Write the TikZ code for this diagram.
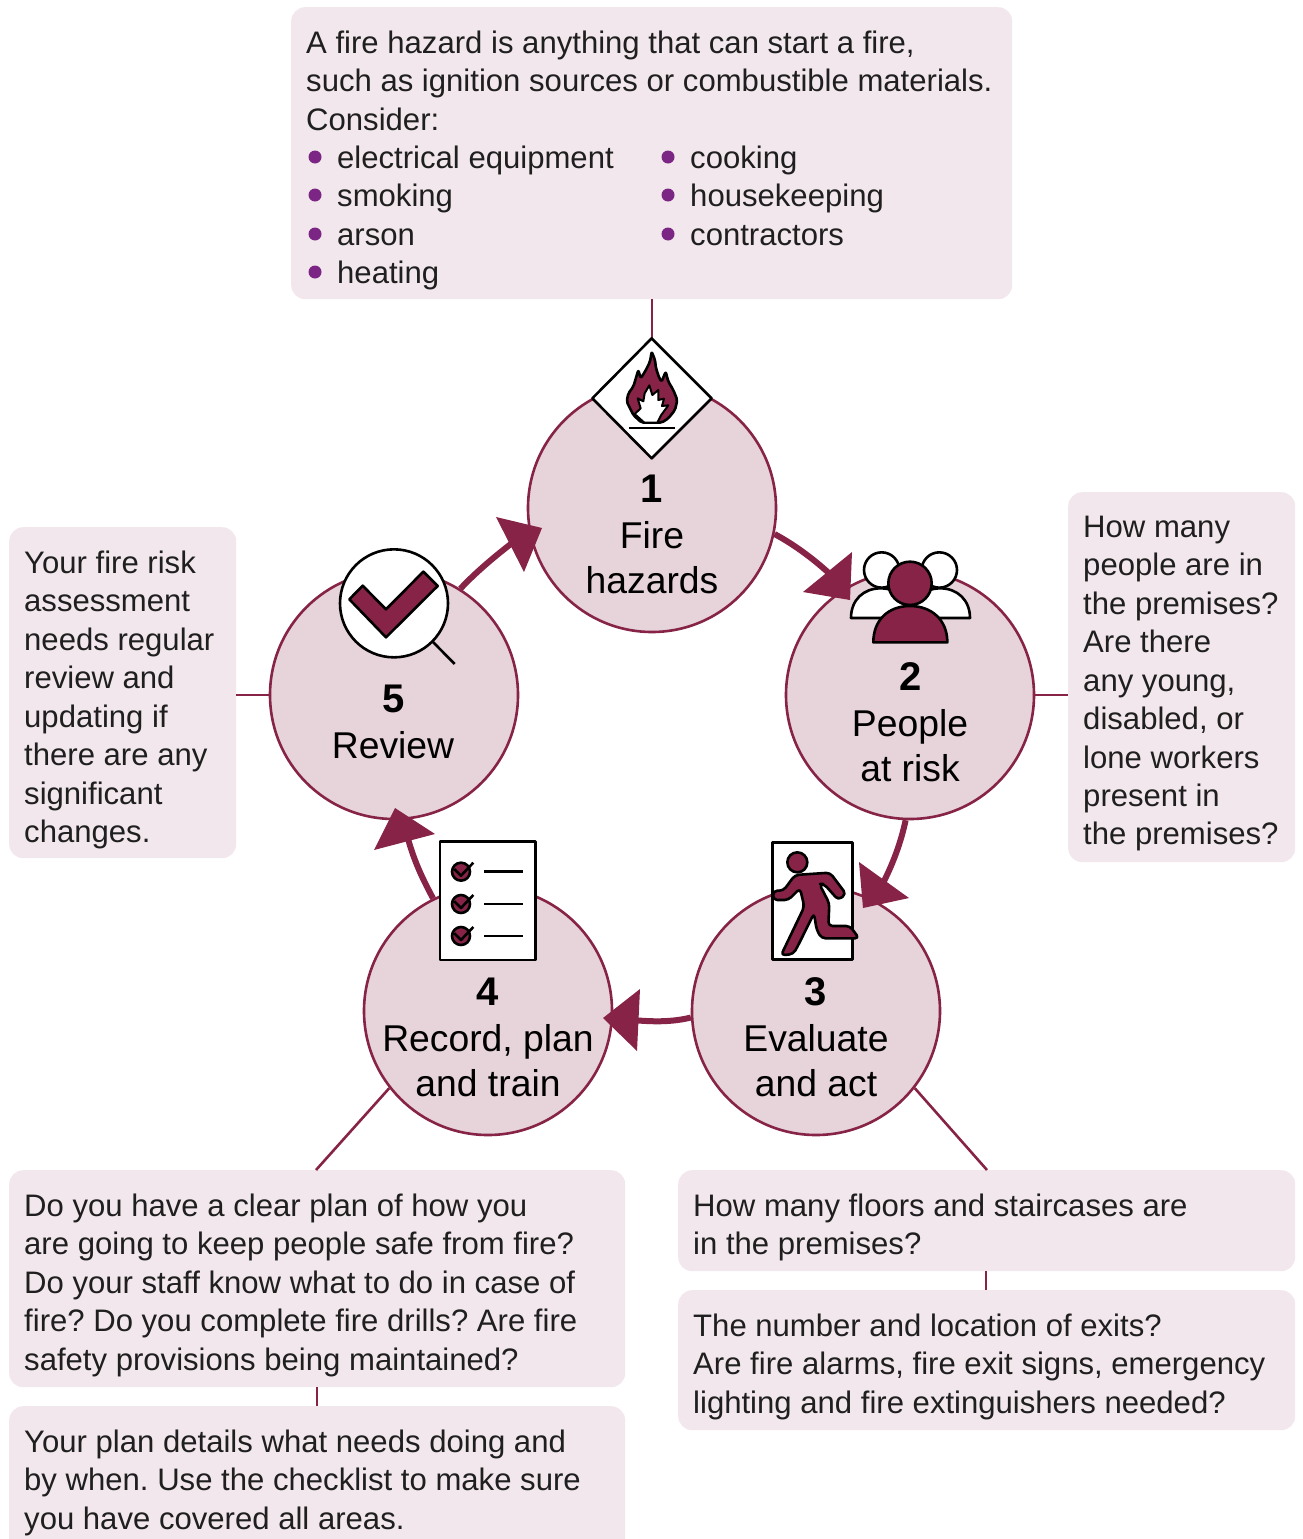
\documentclass[tikz,border=0pt]{standalone}
\usepackage{fontspec}
\setmainfont{Liberation Sans}
\definecolor{maroon}{HTML}{862346}
\definecolor{circfill}{HTML}{E7D3DA}
\definecolor{boxfill}{HTML}{F2E7EC}
\definecolor{bulletc}{HTML}{7B2585}
\tikzset{
  infobox/.style={fill=boxfill,draw=none,rounded corners=14pt,inner sep=0pt,anchor=north west},
  stepcirc/.style={circle,draw=maroon,fill=circfill,line width=2.6pt,minimum size=248pt,inner sep=0pt},
  txt/.style={anchor=north west,inner sep=0pt,align=left,font=\fontsize{31.1}{38.45}\selectfont\frenchspacing,text=black!88},
  steptxt/.style={inner sep=0pt,align=center,font=\fontsize{37.3}{45}\selectfont,text=black},
  stepnum/.style={inner sep=0pt,font=\fontsize{40}{45}\selectfont\bfseries,text=black},
  link/.style={draw=maroon,line width=2.6pt},
  flow/.style={draw=maroon,line width=6pt},
  head/.style={fill=maroon,draw=none},
  iconline/.style={draw=black,line width=2.6pt,line join=round},
  bulletdot/.style={circle,fill=bulletc,minimum size=13pt,inner sep=0pt},
}
\begin{document}
\begin{tikzpicture}[x=1pt,y=-1pt]
\useasboundingbox (0,0) rectangle (1302,1539);
% circles
\node[stepcirc] (c1) at (652,508) {};
\node[stepcirc] (c2) at (910,695) {};
\node[stepcirc] (c3) at (816,1011) {};
\node[stepcirc] (c4) at (488,1011) {};
\node[stepcirc] (c5) at (394,695) {};
% info boxes
\node[infobox,minimum width=721pt,minimum height=292pt] (bTop) at (291,7) {};
\node[infobox,minimum width=227pt,minimum height=370pt] (bRight) at (1068,492) {};
\node[infobox,minimum width=227pt,minimum height=331pt] (bLeft) at (9,527) {};
\node[infobox,minimum width=616pt,minimum height=217pt] (bPlan) at (9,1170) {};
\node[infobox,minimum width=616pt,minimum height=150pt] (bCheck) at (9,1406) {};
\node[infobox,minimum width=617pt,minimum height=101pt] (bFloors) at (678,1170) {};
\node[infobox,minimum width=617pt,minimum height=140pt] (bExits) at (678,1290) {};
% thin links
\coordinate (dTop) at (652,340);
\draw[link] (bTop.south -| dTop) -- (dTop);
\draw[link] (c2.east) -- (bRight.west |- c2.east);
\draw[link] (c5.west) -- (bLeft.east |- c5.west);
\coordinate (fA) at (987,1170);
\coordinate (pA) at (316,1170);
\draw[link] (c3.-38.6) -- (fA);
\draw[link] (c4.218.6) -- (pA);
\coordinate (fB) at (986,1271);
\coordinate (fC) at (986,1290);
\draw[link] (fB) -- (fC);
\coordinate (pB) at (317,1387);
\coordinate (pC) at (317,1406);
\draw[link] (pB) -- (pC);
% flow arrows
\coordinate (h1) at (832,576);
\coordinate (h2) at (882,885);
\coordinate (h3) at (632,1020);
\coordinate (h4) at (407,835);
\coordinate (h5) at (516,540);
\draw[flow] (c1.-12) .. controls (795,545) and (815,560) .. (h1);
\draw[flow] (c2.-92) .. controls (901,842) and (893,864) .. (h2);
\draw[flow] (c3.183.7) .. controls (672,1022) and (655,1022) .. (h3);
\draw[flow] (c4.116) .. controls (421,876) and (413,858) .. (h4);
\draw[flow] (c5.58.6) .. controls (475,573) and (495,556) .. (h5);
\fill[head] (852,552) -- (803,592) -- (850,600) -- cycle;
\fill[head] (859,862) -- (909,898) -- (863,908) -- cycle;
\fill[head] (603,1018) -- (640,989) -- (637,1051) -- cycle;
\fill[head] (395,808) -- (435,834) -- (374,850) -- cycle;
\fill[head] (496,517) -- (542,528) -- (524,572) -- cycle;
% icon 1: flame
\begin{scope}[shift={(520,290)},scale=1/3]
\draw[iconline,fill=white] (395,145) -- (575,325) -- (395,505) -- (217,325) -- cycle;
\draw[iconline] (328,414) -- (465,414);
\end{scope}
\begin{scope}[shift={(600,340)},scale=1/3]
\draw[iconline,fill=maroon,rounded corners=2pt] (155,35) -- (165,60) -- (168,85) -- (178,115) -- (185,125) -- (197,95) -- (205,125) -- (220,150) -- (232,180) -- (225,210) -- (205,235) -- (185,248) -- (125,248) -- (100,225) -- (80,185) -- (85,160) -- (100,140) -- (115,90) -- (122,115) -- (135,95) -- (150,65) -- cycle;
\draw[black,line width=2pt,line join=round,fill=white] (133,248) -- (104,222) -- (122,205) -- (113,175) -- (130,184) -- (134,160) -- (148,136) -- (157,165) -- (175,150) -- (175,180) -- (192,176) -- (186,198) -- (205,196) -- (183,226) -- (172,248) -- cycle;
\end{scope}
% icon 2: people
\begin{scope}[shift={(760,520)},scale=1/3]
\draw[iconline,fill=white] (273,294) .. controls (273,240) and (310,205) .. (362,205) .. controls (414,205) and (451,240) .. (451,294) -- cycle;
\draw[iconline,fill=white] (451,294) .. controls (451,240) and (490,205) .. (541,205) .. controls (592,205) and (630,240) .. (630,294) -- cycle;
\draw[iconline,fill=white] (365,150) circle[radius=53];
\draw[iconline,fill=white] (538,150) circle[radius=53];
\draw[iconline,fill=maroon] (450,190) circle[radius=65];
\draw[iconline,fill=maroon] (340,367) .. controls (340,300) and (385,258) .. (450,258) .. controls (515,258) and (562,300) .. (562,367) -- cycle;
\end{scope}
% icon 3: running man
\begin{scope}[shift={(750,820)},scale=1/3]
\draw[iconline,fill=white] (68,67) rectangle (307,418);
\draw[iconline,fill=maroon] (142,127) circle[radius=30];
\draw[iconline,fill=maroon,rounded corners=4pt] (70,212) -- (100,212) -- (135,165) -- (240,158) -- (288,222) -- (265,240) -- (222,192) -- (208,192) -- (238,250) -- (235,318) -- (300,318) -- (327,355) -- (215,355) -- (200,330) -- (192,280) -- (145,375) -- (130,402) -- (93,406) -- (163,260) -- (150,205) -- (115,240) -- (70,240) -- cycle;
\end{scope}
% icon 4: checklist
\begin{scope}[shift={(370,800)},scale=1/3]
\draw[iconline,fill=white] (210,125) rectangle (497,480);
\foreach \yy in {215,312,408}{
  \draw[iconline,fill=maroon] (273,\yy) circle[radius=27];
  \draw[iconline] (253,\yy-8) -- (273,\yy+12) -- (310,\yy-27);
  \draw[iconline] (343,\yy) -- (458,\yy);
}
\end{scope}
% icon 5: magnifier
\begin{scope}[shift={(320,500)},scale=1/3]
\draw[iconline] (338,425) -- (404,492);
\draw[iconline,fill=white] (222,310) circle[radius=162];
\draw[iconline,fill=maroon] (88,298) -- (128,257) -- (198,328) -- (310,215) -- (353,258) -- (198,412) -- cycle;
\end{scope}
% step labels
\node[stepnum] (n1) at (652,489) {1};
\node[steptxt] (t1) at (652,558) {Fire\\hazards};
\node[stepnum] (n2) at (911,677) {2};
\node[steptxt] (t2) at (910,746) {People\\at risk};
\node[stepnum] (n3) at (816,992) {3};
\node[steptxt] (t3) at (816,1061) {Evaluate\\and act};
\node[stepnum] (n4) at (488,992) {4};
\node[steptxt] (t4) at (488,1061) {Record, plan\\and train};
\node[stepnum] (n5) at (394,699) {5};
\node[steptxt] (t5) at (393,745) {Review};
% texts
\node[txt] (x1) at (306,30.7) {A fire hazard is anything that can start a fire,\\such as ignition sources or combustible materials.\\Consider:};
\foreach \nm/\yy in {a/157,b/195,c/234,d/272}{\node[bulletdot] (bl\nm) at (315,\yy) {};}
\foreach \nm/\yy in {a/157,b/195,c/234}{\node[bulletdot] (br\nm) at (668,\yy) {};}
\node[txt] (x2) at (337,145.7) {electrical equipment\\smoking\\arson\\heating};
\node[txt] (x3) at (690,145.7) {cooking\\housekeeping\\contractors};
\node[txt] (x4) at (1083,515.7) {How many\\people are in\\the premises?\\Are there\\any young,\\disabled, or\\lone workers\\present in\\the premises?};
\node[txt] (x5) at (24,550.7) {Your fire risk\\assessment\\needs regular\\review and\\updating if\\there are any\\significant\\changes.};
\node[txt] (x6) at (24,1193.7) {Do you have a clear plan of how you\\are going to keep people safe from fire?\\Do your staff know what to do in case of\\fire? Do you complete fire drills? Are fire\\safety provisions being maintained?};
\node[txt] (x7) at (24,1429.7) {Your plan details what needs doing and\\by when. Use the checklist to make sure\\you have covered all areas.};
\node[txt] (x8) at (693,1193.7) {How many floors and staircases are\\in the premises?};
\node[txt] (x9) at (693,1313.7) {The number and location of exits?\\Are fire alarms, fire exit signs, emergency\\lighting and fire extinguishers needed?};
\end{tikzpicture}
\end{document}
